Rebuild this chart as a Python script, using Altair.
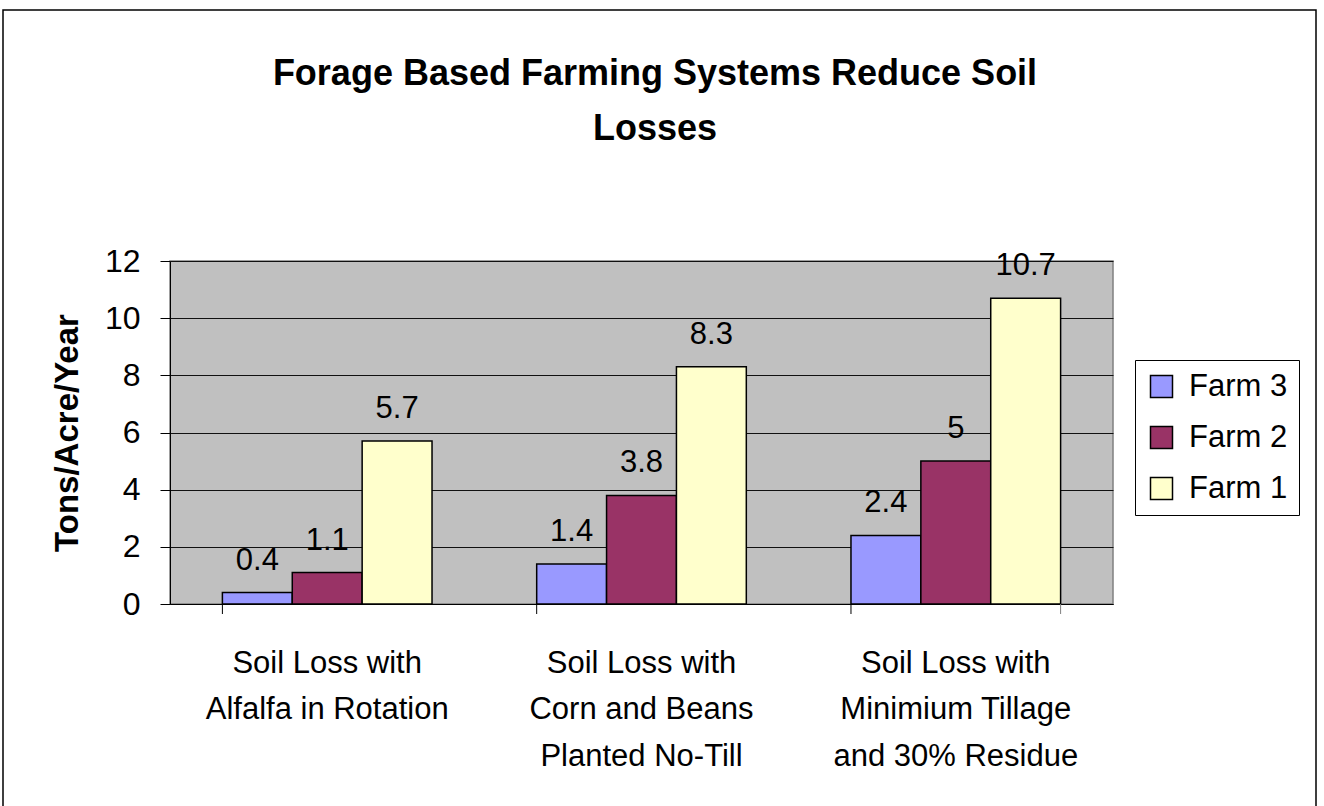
import altair as alt
import pandas as pd

categories = [
    "Soil Loss with\nAlfalfa in Rotation",
    "Soil Loss with\nCorn and Beans\nPlanted No-Till",
    "Soil Loss with\nMinimium Tillage\nand 30% Residue",
]
farms = ["Farm 3", "Farm 2", "Farm 1"]
farm3 = [0.4, 1.4, 2.4]
farm2 = [1.1, 3.8, 5.0]
farm1 = [5.7, 8.3, 10.7]
colors = ["#9999FF", "#993366", "#FFFFCC"]
y_ticks = [0, 2, 4, 6, 8, 10, 12]
title_lines = ["Forage Based Farming Systems Reduce Soil", "Losses"]

rows = []
for farm, vals in zip(farms, [farm3, farm2, farm1]):
    for c, v in zip(categories, vals):
        rows.append({"category": c, "farm": farm, "value": v})
df = pd.DataFrame(rows)

FONT = "Liberation Sans"
W, H = 943, 343

x_enc = alt.X(
    "category:N",
    sort=categories,
    scale=alt.Scale(paddingInner=0.333, paddingOuter=0.1667),
    axis=alt.Axis(
        title=None,
        labelExpr="split(datum.label, '\\n')",
        labelAngle=0,
        ticks=False,
        tickSize=0,
        labelFontSize=31,
        labelFont=FONT,
        labelColor="black",
        labelPadding=44,
        labelLineHeight=46.5,
        labelLimit=0,
        domainColor="black",
        domainWidth=1,
        grid=False,
    ),
)
xoff = alt.XOffset("farm:N", sort=farms, scale=alt.Scale(paddingInner=0, paddingOuter=0))
y_enc = alt.Y(
    "value:Q",
    scale=alt.Scale(domain=[0, 12], nice=False),
    axis=alt.Axis(
        values=y_ticks,
        title="Tons/Acre/Year",
        titleFont=FONT,
        titleFontSize=33,
        titleFontWeight="bold",
        titleColor="black",
        titlePadding=20,
        labelFont=FONT,
        labelFontSize=32,
        labelColor="black",
        labelPadding=20,
        tickSize=10,
        tickColor="black",
        domainColor="black",
        gridColor="#111111",
        gridWidth=1,
    ),
)

bars = alt.Chart(df).mark_bar(stroke="black", strokeWidth=1.5).encode(
    x=x_enc,
    xOffset=xoff,
    y=y_enc,
    color=alt.Color(
        "farm:N",
        sort=farms,
        scale=alt.Scale(domain=farms, range=colors),
        legend=alt.Legend(
            title=None,
            orient="none",
            legendX=965,
            legendY=99,
            fillColor="white",
            strokeColor="black",
            padding=11,
            symbolType="square",
            symbolSize=484,
            symbolStrokeColor="black",
            symbolStrokeWidth=1.5,
            labelFont=FONT,
            labelFontSize=31,
            labelColor="black",
            rowPadding=19,
            labelOffset=12,
        ),
    ),
)

labels = alt.Chart(df).mark_text(
    baseline="bottom", dy=-16, fontSize=31, font=FONT, color="black"
).encode(
    x=alt.X("category:N", sort=categories),
    xOffset=xoff,
    y=alt.Y("value:Q"),
    text=alt.Text("value:Q", format="~g"),
)

tick_df = pd.DataFrame({"category": categories})
ticks_start = alt.Chart(tick_df).mark_rule(color="black", strokeWidth=1).encode(
    x=alt.X("category:N", sort=categories, bandPosition=0),
    y=alt.value(H),
    y2=alt.value(H + 10),
)
ticks_end = alt.Chart(pd.DataFrame({"category": [categories[-1]]})).mark_rule(
    color="#808080", strokeWidth=1
).encode(
    x=alt.X("category:N", sort=categories, bandPosition=1),
    y=alt.value(H),
    y2=alt.value(H + 10),
)

frame = alt.Chart(pd.DataFrame({"a": [0]})).mark_rect(
    fillOpacity=0, stroke="black", strokeWidth=1.5
).encode(
    x=alt.value(-167), x2=alt.value(1146), y=alt.value(-251), y2=alt.value(560)
)

title = alt.Chart(pd.DataFrame({"t": [title_lines]})).mark_text(
    font=FONT, fontSize=36, fontWeight="bold", color="black",
    lineHeight=55, align="center", baseline="middle",
).encode(
    x=alt.value(485), y=alt.value(-187), text="t:N"
)

chart = (
    alt.layer(bars, labels, ticks_start, ticks_end, frame, title)
    .properties(
        width=W,
        height=H,
        autosize=alt.AutoSizeParams(type="none"),
        padding={"left": 170, "top": 261, "right": 211, "bottom": 202},
        background="white",
    )
    .configure_view(stroke="#808080", strokeWidth=1.5, fill="#C0C0C0")
)

chart.save("out.html", embed_options={"renderer": "svg", "actions": False})
